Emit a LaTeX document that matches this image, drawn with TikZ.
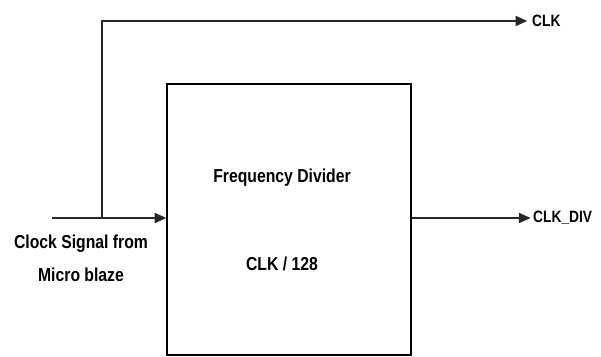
\documentclass[tikz,border=0pt]{standalone}
\usepackage{fontspec}
\setmainfont{Liberation Sans}[FakeStretch=0.84]
\usetikzlibrary{arrows.meta, positioning}
\tikzstyle{block}=[rectangle, draw=black, line width=1pt, minimum width=7.32cm,
  minimum height=8.13cm, inner sep=0pt]
\tikzstyle{wire}=[-{Triangle[length=10pt, width=8.5pt]}, line width=1.6pt, color=black!85]
\tikzstyle{label}=[font=\bfseries\fontsize{16}{28}\selectfont, inner sep=0pt]
\tikzstyle{pin}=[label, font=\bfseries\fontsize{14}{17}\selectfont, anchor=west]

\begin{document}
\begin{tikzpicture}[x=0.03cm, y=-0.03cm]
  \useasboundingbox (0,0) rectangle (601,356);
  % frequency divider block
  \node[block] (divider) at (289,219.5) {};
  \node[label] (title) at (282,178) {Frequency Divider};
  \node[label] (ratio) at (282,264) {CLK / 128};
  % input side
  \coordinate (in) at (52,218);
  \coordinate (tap) at (102,218);
  \coordinate (bend) at (102,21);
  \node[label, align=center] (src) at (81,258) {Clock Signal from\\Micro blaze};
  % outputs
  \node[pin] (clk) at (532,21) {CLK};
  \node[pin] (clkdiv) at (533,218) {CLK\_DIV};
  \draw[wire] (in) -- (in -| divider.west);
  \draw[wire] (tap) -- (bend) -- ([xshift=-4pt]clk.west);
  \draw[wire] (clkdiv.west -| divider.east) -- ([xshift=-2pt]clkdiv.west);
\end{tikzpicture}
\end{document}
